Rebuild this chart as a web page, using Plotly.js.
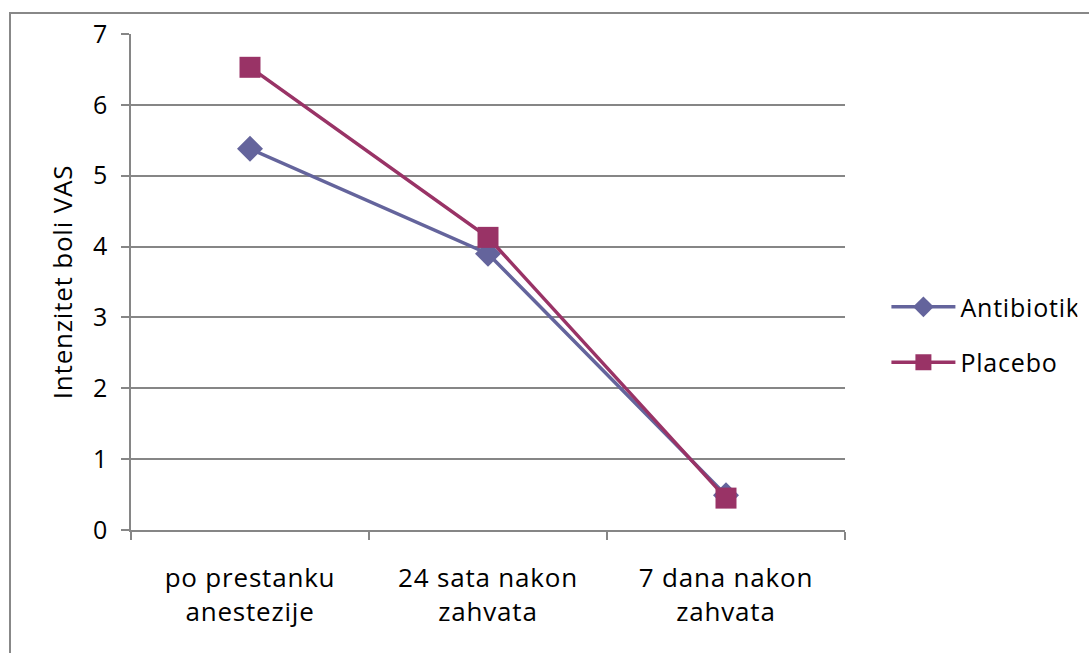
<!DOCTYPE html>
<html>
<head>
<meta charset="utf-8">
<script src="https://cdn.plot.ly/plotly-3.0.1.min.js"></script>
<style>
html,body{margin:0;padding:0;background:#fff;overflow:hidden;}
#frame{position:absolute;left:9px;top:12px;width:1200px;height:800px;border:2px solid #888;box-sizing:border-box;pointer-events:none;z-index:5;}
#chart{position:absolute;left:0;top:0;width:1089px;height:653px;}
#chart svg text{letter-spacing:0.8px;}
</style>
</head>
<body>
<div id="chart"></div>
<div id="frame"></div>
<script>
const categories = ["po prestanku<br>anestezije", "24 sata nakon<br>zahvata", "7 dana nakon<br>zahvata"];
const antibiotik = [5.38, 3.9, 0.49];
const placebo = [6.53, 4.13, 0.45];
const yTicks = [0, 1, 2, 3, 4, 5, 6, 7];

const font = "Open Sans, Noto Sans, sans-serif";

const traces = [
  {
    x: categories, y: antibiotik, name: "Antibiotik", type: "scatter", mode: "lines+markers",
    line: {color: "#64649C", width: 3.5},
    marker: {symbol: "diamond", size: 20, color: "#64649C"},
    legendgroup: "a"
  },
  {
    x: categories, y: placebo, name: "Placebo", type: "scatter", mode: "lines+markers",
    line: {color: "#993366", width: 3.5},
    marker: {symbol: "square", size: 21, color: "#993366"},
    legendgroup: "b"
  }
];

const layout = {
  width: 1089, height: 653,
  margin: {l: 131, r: 244, t: 34, b: 123},
  paper_bgcolor: "#fff", plot_bgcolor: "#fff",
  font: {family: font, size: 26, color: "#000"},
  showlegend: true,
  legend: {x: 1.058, y: 0.394, xanchor: "left", yanchor: "middle", traceorder: "grouped", tracegroupgap: 20, font: {size: 25, family: font}, itemwidth: 64},
  xaxis: {
    type: "category", range: [-0.5, 2.5],
    showline: true, linecolor: "#868686", linewidth: 2,
    ticks: "outside", tickson: "boundaries", ticklen: 8, tickcolor: "#868686", tickwidth: 2,
    showgrid: false, zeroline: false,
    ticklabelstandoff: 24,
    tickfont: {size: 26, family: font}
  },
  yaxis: {
    range: [0, 7], tickvals: yTicks, ticktext: yTicks.map(String),
    showline: true, linecolor: "#868686", linewidth: 2,
    ticks: "outside", ticklen: 8, tickcolor: "#868686", tickwidth: 2,
    showgrid: true, gridcolor: "#868686", gridwidth: 2, zeroline: false,
    ticklabelstandoff: 8,
    tickfont: {size: 25, family: font},
    title: {text: "Intenzitet boli VAS", font: {size: 26, family: font}, standoff: 14}
  }
};

Plotly.newPlot("chart", traces, layout, {displayModeBar: false, staticPlot: true});
</script>
</body>
</html>
